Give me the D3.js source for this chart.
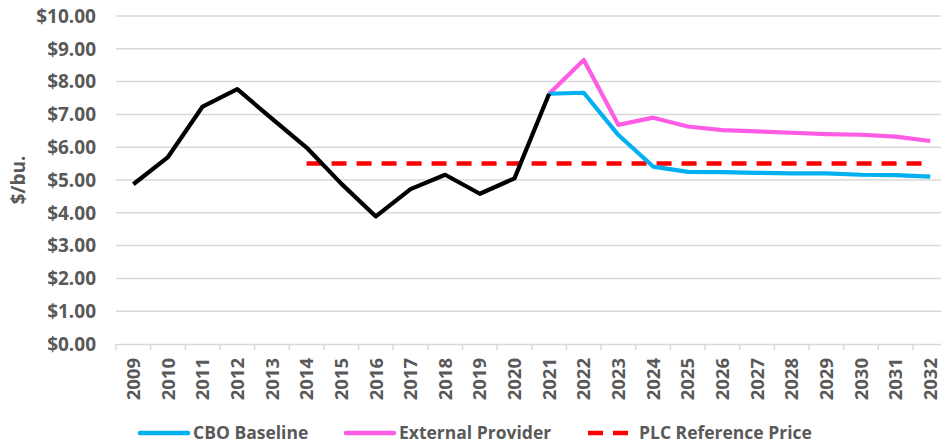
<!DOCTYPE html>
<html>
<head>
<meta charset="utf-8">
<script src="https://cdn.jsdelivr.net/npm/d3@7"></script>
<style>
  body { margin: 0; background: #fff; }
  text { font-family: "Open Sans", sans-serif; font-weight: bold; fill: #595959; }
</style>
</head>
<body>
<div id="chart"></div>
<script>
// wheat season-average price, $/bu.
const years = d3.range(2009, 2033).map(String);
const historical = [4.87, 5.70, 7.24, 7.77, 6.87, 5.99, 4.89, 3.89, 4.72, 5.16, 4.58, 5.05, 7.63];
const cboBaseline = [7.63, 7.66, 6.37, 5.41, 5.25, 5.24, 5.22, 5.20, 5.20, 5.16, 5.15, 5.10];
const externalProvider = [7.63, 8.66, 6.68, 6.90, 6.63, 6.52, 6.48, 6.44, 6.40, 6.38, 6.32, 6.19];
const referencePrice = 5.50;
const refYears = ["2014", "2032"];
const yTicks = [0, 1, 2, 3, 4, 5, 6, 7, 8, 9, 10];

const width = 941;
const height = 444;

const svg = d3.select("#chart")
    .append("svg")
    .attr("width", width)
    .attr("height", height);

const x = d3.scaleBand()
    .domain(years)
    .range([116, 116 + 24 * 34.65]);

const y = d3.scaleLinear()
    .domain([0, 10])
    .range([344, 16]);

const cx = d => x(d) + x.bandwidth() / 2;

// gridlines
svg.selectAll(".grid")
    .data(yTicks.slice(1))
    .enter()
    .append("line")
    .attr("x1", 116)
    .attr("x2", width)
    .attr("y1", d => y(d))
    .attr("y2", d => y(d))
    .attr("stroke", "#d9d9d9")
    .attr("stroke-width", 1.5);

// y tick labels
svg.selectAll(".ylab")
    .data(yTicks)
    .enter()
    .append("text")
    .attr("x", 96)
    .attr("y", d => y(d))
    .attr("dy", "0.36em")
    .attr("text-anchor", "end")
    .style("font-size", "19px")
    .text(d => "$" + d3.format(".2f")(d));

svg.append("text")
    .attr("transform", "translate(25," + y(5) + ") rotate(-90)")
    .attr("text-anchor", "middle")
    .style("font-size", "19px")
    .text("$/bu.");

// x axis
const xAxis = d3.axisBottom(x).tickSize(0).tickFormat("");
const gx = svg.append("g")
    .attr("transform", "translate(0," + y(0) + ")")
    .call(xAxis);
gx.select(".domain").attr("stroke", "#d9d9d9").attr("stroke-width", 1.5);
gx.selectAll(".sep")
    .data(years.concat(["end"]))
    .enter()
    .append("line")
    .attr("x1", (d, i) => x.range()[0] + i * x.bandwidth())
    .attr("x2", (d, i) => x.range()[0] + i * x.bandwidth())
    .attr("y1", 0)
    .attr("y2", 6)
    .attr("stroke", "#d9d9d9")
    .attr("stroke-width", 1.5);

svg.selectAll(".xlab")
    .data(years)
    .enter()
    .append("text")
    .attr("transform", d => "translate(" + cx(d) + ",358) rotate(-90)")
    .attr("dy", "0.36em")
    .attr("text-anchor", "end")
    .style("font-size", "18.5px")
    .text(d => d);

// lines
const line = d3.line()
    .x(d => cx(d[0]))
    .y(d => y(d[1]));

const histPts = historical.map((v, i) => [years[i], v]);
const cboPts = cboBaseline.map((v, i) => [years[i + 12], v]);
const extPts = externalProvider.map((v, i) => [years[i + 12], v]);

svg.append("path")
    .datum([[refYears[0], referencePrice], [refYears[1], referencePrice]])
    .attr("d", line)
    .attr("fill", "none")
    .attr("stroke", "#ff0000")
    .attr("stroke-width", 4.5)
    .attr("stroke-dasharray", "15,10");

svg.append("path")
    .datum(extPts)
    .attr("d", line)
    .attr("fill", "none")
    .attr("stroke", "#ff5ce6")
    .attr("stroke-width", 4.2)
    .attr("stroke-linejoin", "round");

svg.append("path")
    .datum(cboPts)
    .attr("d", line)
    .attr("fill", "none")
    .attr("stroke", "#00b0f0")
    .attr("stroke-width", 4.2)
    .attr("stroke-linejoin", "round");

svg.append("path")
    .datum(histPts)
    .attr("d", line)
    .attr("fill", "none")
    .attr("stroke", "#000")
    .attr("stroke-width", 4.2)
    .attr("stroke-linejoin", "round");

// legend
const legendItems = [
    { label: "CBO Baseline", color: "#00b0f0", dash: null, x: 140 },
    { label: "External Provider", color: "#ff5ce6", dash: null, x: 346 },
    { label: "PLC Reference Price", color: "#ff0000", dash: "15,10", x: 588 }
];

const legend = svg.selectAll(".legend")
    .data(legendItems)
    .enter()
    .append("g")
    .attr("transform", d => "translate(" + d.x + ",433)");

legend.append("line")
    .attr("x1", 0)
    .attr("x2", 48)
    .attr("stroke", d => d.color)
    .attr("stroke-width", 4.5)
    .attr("stroke-linecap", d => d.dash ? "butt" : "round")
    .attr("stroke-dasharray", d => d.dash);

legend.append("text")
    .attr("x", d => d.dash ? 51 : 53)
    .attr("dy", "0.36em")
    .style("font-size", "17.5px")
    .text(d => d.label);
</script>
</body>
</html>
